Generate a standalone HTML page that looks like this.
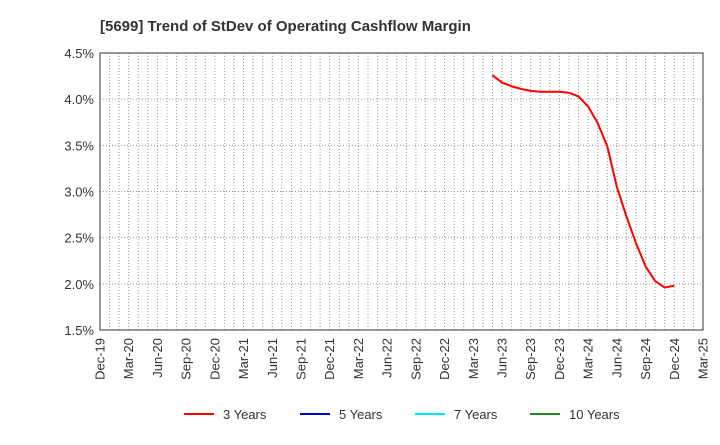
<!DOCTYPE html>
<html><head><meta charset="utf-8"><style>
body{margin:0;background:#fff;font-family:"Liberation Sans",Arial,sans-serif}
</style></head><body>
<svg id="chart" width="720" height="440" xmlns="http://www.w3.org/2000/svg">
<text x="100" y="31" font-size="15" font-weight="bold" fill="#333">[5699]  Trend of StDev of Operating Cashflow Margin</text>
<g id="grid"></g><g id="axes"></g><g id="series"></g>
<g font-size="13" fill="#333">
<line x1="184" y1="414" x2="214" y2="414" stroke="#ff0000" stroke-width="2"/><text x="223" y="419">3 Years</text>
<line x1="300" y1="414" x2="330" y2="414" stroke="#0000cc" stroke-width="2"/><text x="339" y="419">5 Years</text>
<line x1="415" y1="414" x2="445" y2="414" stroke="#00e5ff" stroke-width="2"/><text x="454" y="419">7 Years</text>
<line x1="530" y1="414" x2="560" y2="414" stroke="#228b22" stroke-width="2"/><text x="569" y="419">10 Years</text>
</g>
</svg>
<script>
const yTicks=[1.5,2.0,2.5,3.0,3.5,4.0,4.5];
const xLabels=["Dec-19","Mar-20","Jun-20","Sep-20","Dec-20","Mar-21","Jun-21","Sep-21","Dec-21","Mar-22","Jun-22","Sep-22","Dec-22","Mar-23","Jun-23","Sep-23","Dec-23","Mar-24","Jun-24","Sep-24","Dec-24","Mar-25"];
const startMonth=41; // May-23, months since Dec-19
const series3=[4.26,4.18,4.14,4.11,4.09,4.08,4.08,4.08,4.07,4.03,3.92,3.74,3.49,3.05,2.73,2.44,2.19,2.03,1.96,1.98];
const L=100,R=703,T=53,B=330,NM=63;
const xS=m=>L+(R-L)*m/NM, yS=v=>B-(v-1.5)/3*(B-T);
const ns="http://www.w3.org/2000/svg";
function mk(tag,attrs,parent,txt){const e=document.createElementNS(ns,tag);for(const k in attrs)e.setAttribute(k,attrs[k]);if(txt!==undefined)e.textContent=txt;document.getElementById(parent).appendChild(e);return e;}
for(let m=1;m<NM;m++){const e=mk('line',{x1:xS(m),x2:xS(m),y1:T,y2:B,stroke:'#999','stroke-dasharray':'1,2','stroke-width':1},'grid');

}
yTicks.forEach(v=>{const y=yS(v);const g=mk('line',{x1:L,x2:R,y1:y,y2:y,stroke:'#999','stroke-dasharray':'1,2'},'grid');


const t=mk('text',{x:L-6,y:y+5,'text-anchor':'end','font-size':13,fill:'#333'},'axes',v.toFixed(1)+'%');

});
xLabels.forEach((s,i)=>{const x=xS(i*3);const t=mk('text',{transform:`translate(${x+4.5},${B+8}) rotate(-90)`,'text-anchor':'end','font-size':13,fill:'#333'},'axes',s);

});
const f=mk('rect',{x:L,y:T,width:R-L,height:B-T,fill:'none',stroke:'#333'},'axes');


const pts=series3.map((v,i)=>xS(startMonth+i)+','+yS(v)).join(' ');
const p=mk('polyline',{points:pts,fill:'none',stroke:'#ff0000','stroke-width':2,'stroke-linejoin':'round'},'series');


</script>
</body></html>
